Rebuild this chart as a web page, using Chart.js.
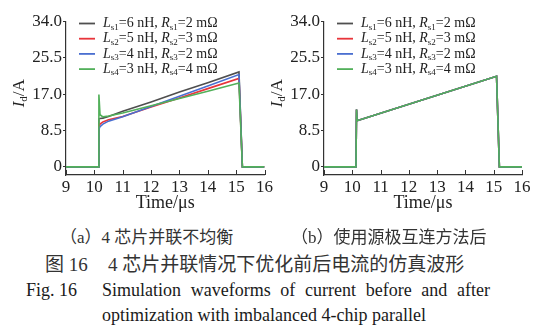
<!DOCTYPE html>
<html>
<head>
<meta charset="utf-8">
<script src="https://cdn.jsdelivr.net/npm/chart.js@4.4.0/dist/chart.umd.min.js"></script>
<style>
  body { margin: 0; background: #fff; width: 550px; height: 326px; position: relative; overflow: hidden; }
  .panel { position: absolute; top: 0; width: 275px; height: 215px; }
  .cap { position: absolute; white-space: nowrap; color: #1a1a1a; }
  .cn { font-family: "Liberation Serif", "Noto Sans CJK SC", serif; color: #333; }
  .en { font-family: "Liberation Serif", serif; }
</style>
</head>
<body>
<div class="panel" style="left:0"><canvas id="chartA" width="275" height="215"></canvas></div>
<div class="panel" style="left:258px"><canvas id="chartB" width="275" height="215"></canvas></div>

<div class="cap cn" style="left:60px; top:229px; font-size:17px; line-height:18px">（a）4 芯片并联不均衡</div>
<div class="cap cn" style="left:291px; top:229px; font-size:17px; line-height:18px">（b）使用源极互连方法后</div>
<div class="cap cn" style="left:45px; top:254px; font-size:19px; line-height:22px">图 16</div>
<div class="cap cn" style="left:108px; top:254px; font-size:19px; line-height:22px">4 芯片并联情况下优化前后电流的仿真波形</div>
<div class="cap en" style="left:26px; top:280px; font-size:18px; line-height:20px">Fig. 16</div>
<div class="cap en" style="left:102px; top:280px; width:388px; font-size:18px; line-height:20px; white-space:normal; text-align:justify; text-align-last:justify">Simulation waveforms of current before and after</div>
<div class="cap en" style="left:102px; top:305px; font-size:18px; line-height:20px">optimization with imbalanced 4-chip parallel</div>

<script>
// (a) before optimization: time in µs, drain current in A
const timeA = [9, 10.13, 10.16, 10.2, 10.3, 10.5, 11, 12, 13, 14, 15.1, 15.22, 16];
const ls1A = [0, 0, 11.2, 11.3, 11.4, 11.8, 13.0, 15.2, 17.5, 19.7, 22.2, 0, 0];
const ls2A = [0, 0, 9.5, 10.0, 10.5, 11.0, 11.8, 14.0, 16.1, 18.3, 20.7, 0, 0];
const ls3A = [0, 0, 8.8, 9.4, 10.0, 10.7, 11.7, 14.1, 16.5, 18.9, 21.6, 0, 0];
const ls4A = [0, 0, 16.9, 12.2, 11.7, 11.9, 12.6, 14.3, 16.0, 17.7, 19.6, 0, 0];

// (b) after source interconnection: all four chips overlap
const timeB = [9, 10.13, 10.15, 10.17, 15.1, 15.2, 16];
const ls1B = [0, 0, 13.4, 10.8, 21.2, 0, 0];
const ls2B = [0, 0, 13.4, 10.8, 21.2, 0, 0];
const ls3B = [0, 0, 13.4, 10.8, 21.2, 0, 0];
const ls4B = [0, 0, 13.4, 10.8, 21.2, 0, 0];

const inductance = [6, 5, 4, 3];   // nH
const resistance = [2, 3, 2, 4];   // mΩ
const yTicks = [0, 8.5, 17, 25.5, 34];

const colors = ['#4f4f4f', '#e8353b', '#4a6fd0', '#52b05a'];
const serif = "'Liberation Serif', serif";

Chart.defaults.font.family = serif;
Chart.defaults.color = '#222';

function points(t, v) {
  return t.map((x, i) => ({ x: x, y: v[i] }));
}

// custom legend with italic L/R and subscripts
const chipLegend = {
  id: 'chipLegend',
  afterDraw(chart) {
    const { ctx, chartArea } = chart;
    const x0 = chartArea.left + 13;
    ctx.save();
    chart.data.datasets.forEach((ds, i) => {
      const y = chartArea.top + 2 + i * 15.2;
      ctx.strokeStyle = ds.borderColor;
      ctx.lineWidth = 1.8;
      ctx.beginPath();
      ctx.moveTo(x0, y);
      ctx.lineTo(x0 + 16, y);
      ctx.stroke();

      const k = i + 1;
      const parts = [
        ['L', 'italic 14px ' + serif, 0],
        ['s' + k, '9px ' + serif, 4],
        ['=' + inductance[i] + ' nH, ', '14px ' + serif, 0],
        ['R', 'italic 14px ' + serif, 0],
        ['s' + k, '9px ' + serif, 4],
        ['=' + resistance[i] + ' mΩ', '14px ' + serif, 0]
      ];
      let x = x0 + 24;
      ctx.fillStyle = '#222';
      ctx.textBaseline = 'middle';
      ctx.textAlign = 'left';
      parts.forEach(p => {
        ctx.font = p[1];
        ctx.fillText(p[0], x, y + p[2]);
        x += ctx.measureText(p[0]).width;
      });
    });
    ctx.restore();
  }
};

// y title I_d/A and inward x tick marks
const axisExtras = {
  id: 'axisExtras',
  afterDraw(chart) {
    const { ctx, chartArea, scales } = chart;
    ctx.save();
    ctx.strokeStyle = '#333';
    ctx.lineWidth = 1;
    scales.x.ticks.forEach(t => {
      const px = Math.round(scales.x.getPixelForValue(t.value)) + 0.5;
      ctx.beginPath();
      ctx.moveTo(px, chartArea.bottom);
      ctx.lineTo(px, chartArea.bottom - 5);
      ctx.stroke();
    });

    const parts = [
      ['I', 'italic 17px ' + serif, 0],
      ['d', '11px ' + serif, 4],
      ['/A', '17px ' + serif, 0]
    ];
    let total = 0;
    parts.forEach(p => { ctx.font = p[1]; total += ctx.measureText(p[0]).width; });
    ctx.translate(chartArea.left - 46, (chartArea.top + chartArea.bottom) / 2 - 5);
    ctx.rotate(-Math.PI / 2);
    ctx.fillStyle = '#222';
    ctx.textBaseline = 'middle';
    let x = -total / 2;
    parts.forEach(p => {
      ctx.font = p[1];
      ctx.fillText(p[0], x, p[2]);
      x += ctx.measureText(p[0]).width;
    });
    ctx.restore();
  }
};

function makeChart(id, time, series, padRight) {
  const order = [3, 2, 1, 0];
  return new Chart(document.getElementById(id), {
    type: 'line',
    data: {
      datasets: series.map((v, i) => ({
        data: points(time, v),
        borderColor: colors[i],
        borderWidth: 1.6,
        pointRadius: 0,
        tension: 0,
        order: order[i]
      }))
    },
    options: {
      responsive: false,
      animation: false,
      layout: { padding: { top: 21.5, right: padRight, bottom: 0, left: 0 } },
      plugins: { legend: { display: false }, tooltip: { enabled: false } },
      scales: {
        x: {
          type: 'linear',
          min: 9,
          max: 16,
          afterFit: s => { s.height = 40; },
          grid: { display: false, drawTicks: false },
          border: { display: true, color: '#333', width: 1.2 },
          ticks: { stepSize: 1, padding: 2, color: '#222', font: { family: serif, size: 17 } },
          title: {
            display: true,
            text: 'Time/μs',
            color: '#222',
            font: { family: serif, size: 18 },
            padding: { top: 0, bottom: 1 }
          }
        },
        y: {
          min: -1.9,
          max: 34,
          afterFit: s => { s.width = 66; },
          afterBuildTicks: s => { s.ticks = yTicks.map(v => ({ value: v })); },
          grid: { drawOnChartArea: false, drawTicks: true, tickLength: 3, color: '#333' },
          border: { display: true, color: '#333', width: 1.2 },
          ticks: {
            padding: 1,
            color: '#222',
            font: { family: serif, size: 17 },
            callback: v => (v === 0 ? '0' : v.toFixed(1))
          }
        }
      }
    },
    plugins: [chipLegend, axisExtras]
  });
}

makeChart('chartA', timeA, [ls1A, ls2A, ls3A, ls4A], 9);
makeChart('chartB', timeB, [ls1B, ls2B, ls3B, ls4B], 11);
</script>
</body>
</html>
